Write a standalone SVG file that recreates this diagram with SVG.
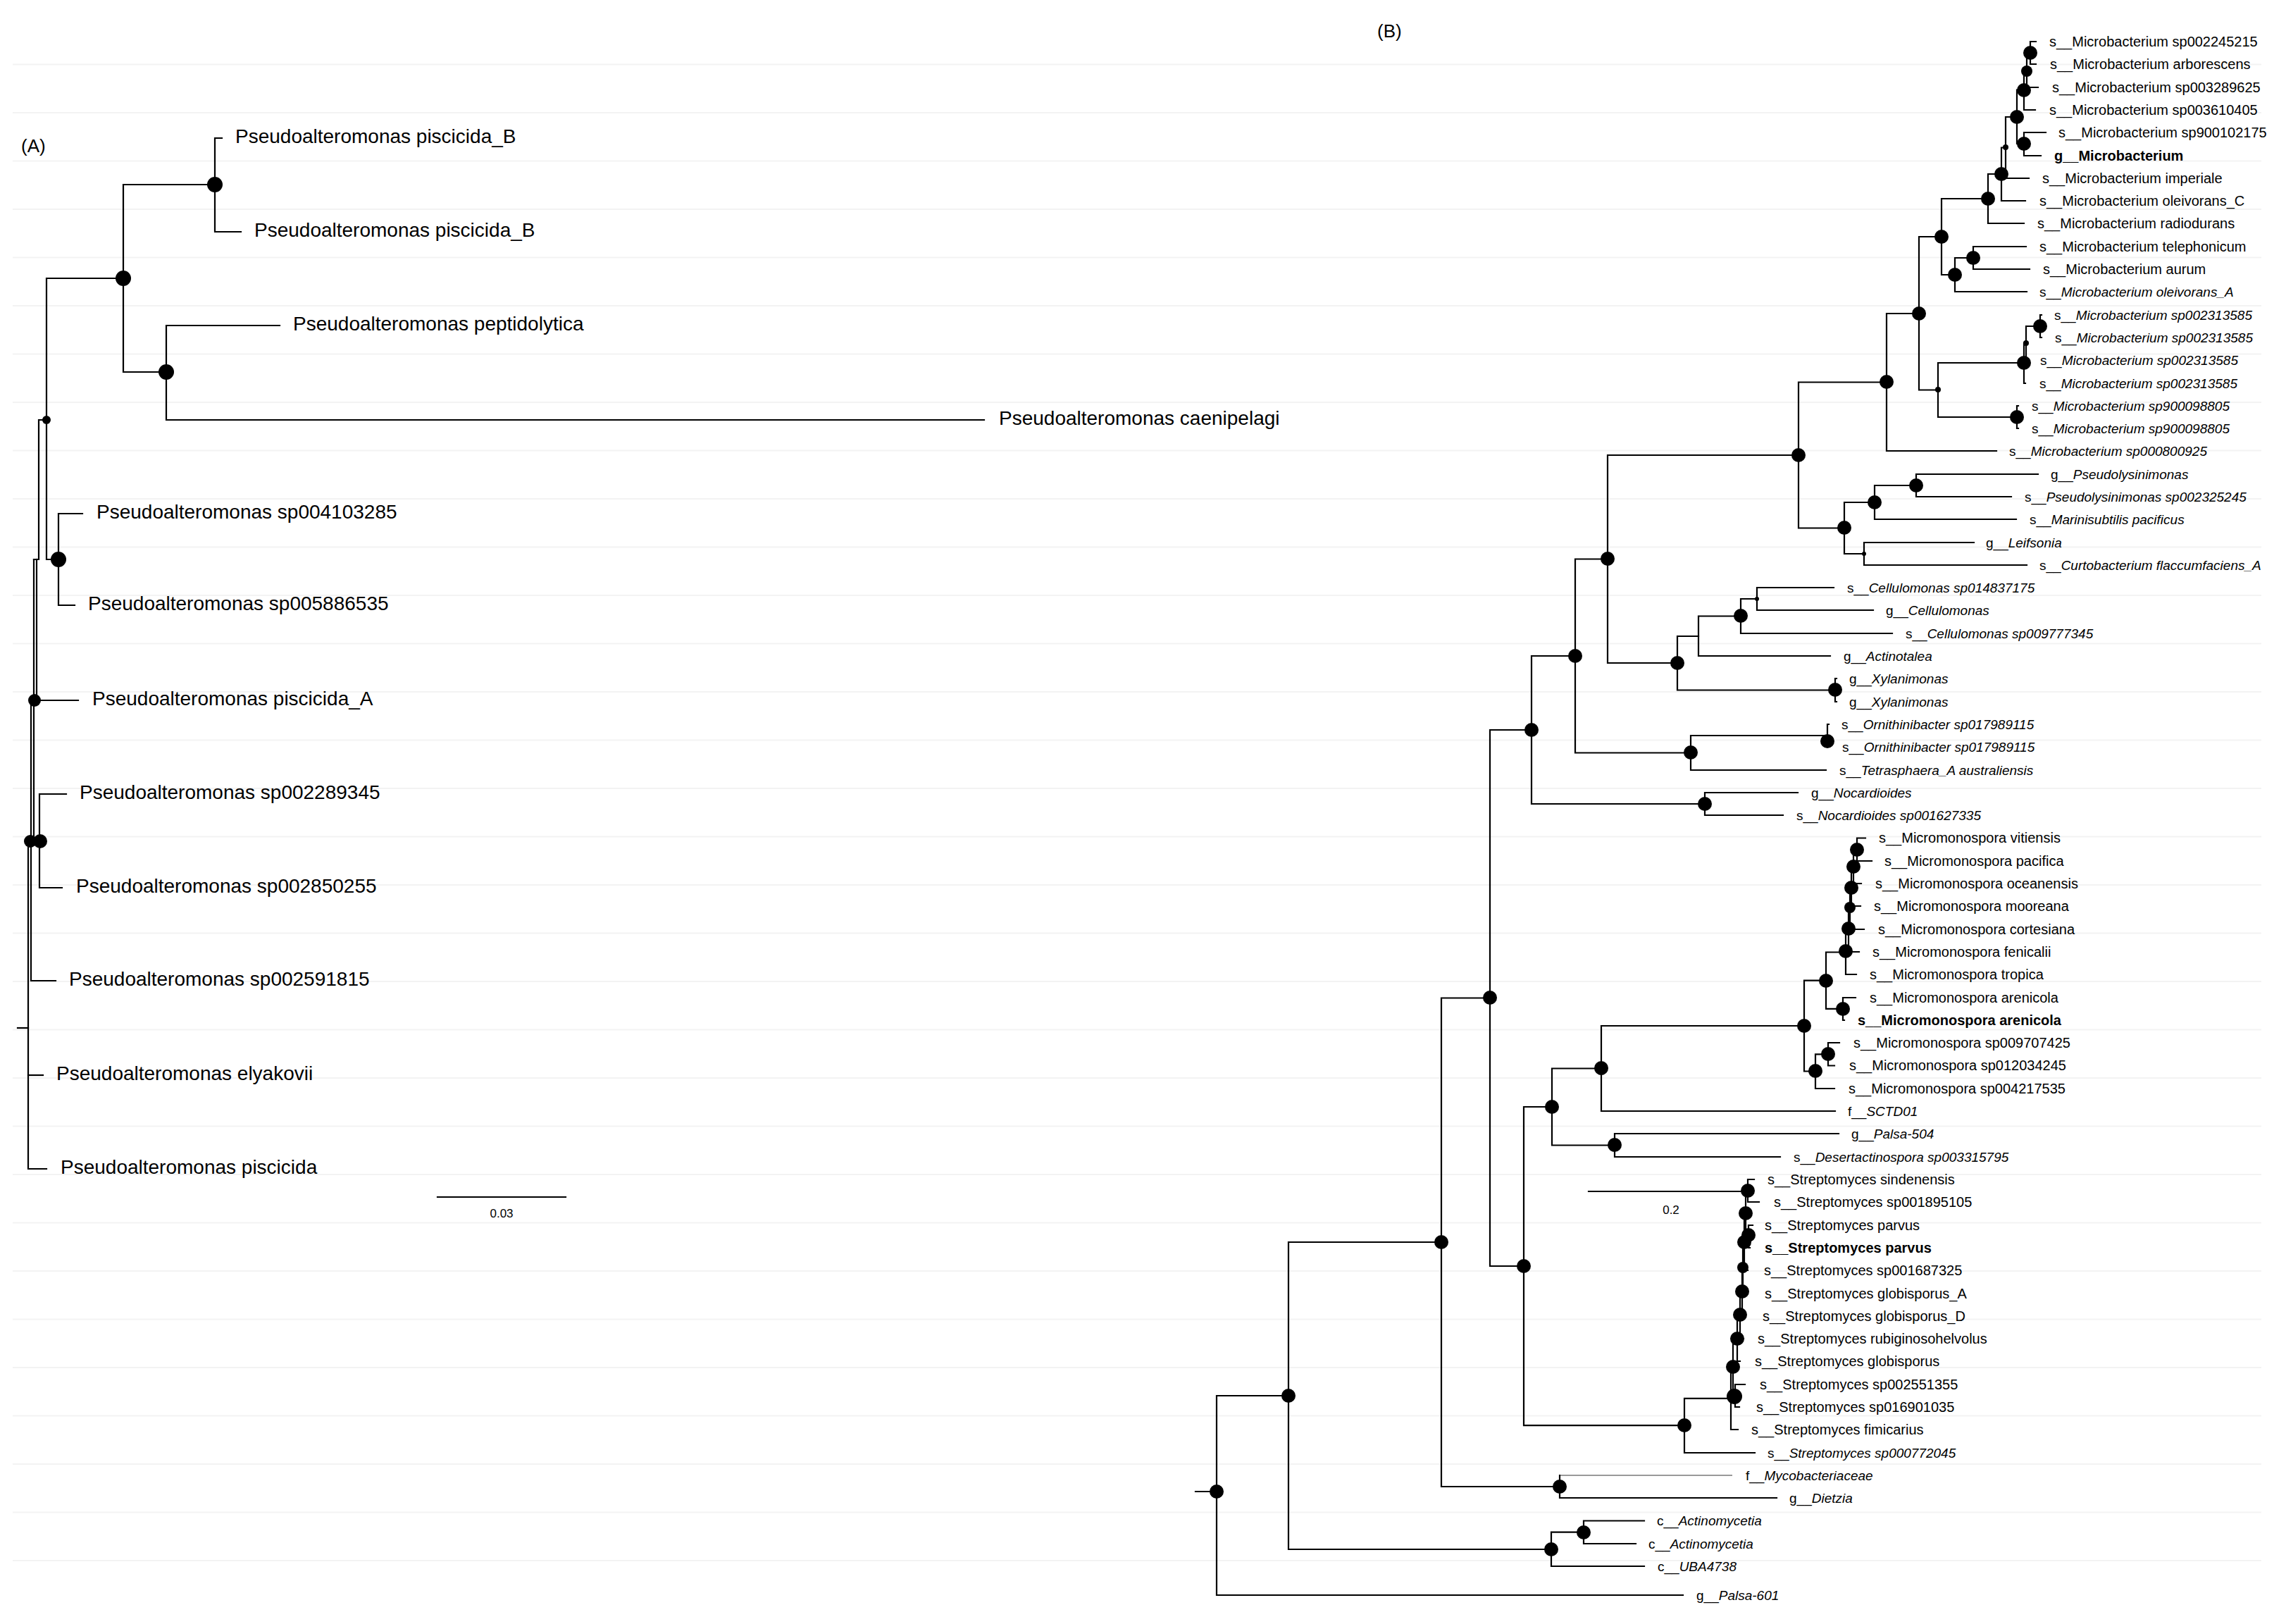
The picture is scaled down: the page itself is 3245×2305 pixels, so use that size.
<svg xmlns="http://www.w3.org/2000/svg" width="3245" height="2305" viewBox="0 0 3245 2305">
<style>
.grid{fill:none;stroke:#f3f3f3;stroke-width:2}
.br{fill:none;stroke:#000;stroke-width:2.2;stroke-linecap:square}
.brg{fill:none;stroke:#777;stroke-width:1.6}
.dot{fill:#000}
.la{font-family:"Liberation Sans",Arial,sans-serif;font-size:28px;fill:#000}
.lb{font-family:"Liberation Sans",Arial,sans-serif;font-size:20px;fill:#000}
.lbi{font-family:"Liberation Sans",Arial,sans-serif;font-size:19px;fill:#000}
.i{font-style:italic}
.bd{font-weight:bold}
.ttl{font-family:"Liberation Sans",Arial,sans-serif;font-size:26px;fill:#000}
.sc{font-family:"Liberation Sans",Arial,sans-serif;font-size:17px;fill:#000}
</style>
<rect width="3245" height="2305" fill="#fff"/>
<path class="grid" d="M18 91.5H3210M18 160H3210M18 228.5H3210M18 297H3210M18 365.5H3210M18 434H3210M18 502.5H3210M18 571H3210M18 639.5H3210M18 708H3210M18 776.5H3210M18 845H3210M18 913.5H3210M18 982H3210M18 1050.5H3210M18 1119H3210M18 1187.5H3210M18 1256H3210M18 1324.5H3210M18 1393H3210M18 1461.5H3210M18 1530H3210M18 1598.5H3210M18 1667H3210M18 1735.5H3210M18 1804H3210M18 1872.5H3210M18 1941H3210M18 2009.5H3210M18 2078H3210M18 2146.5H3210M18 2215H3210"/>

<text class="ttl" x="30" y="216">(A)</text>
<text class="ttl" x="1955" y="53">(B)</text>

<g id="connectors">
<!-- tree A -->
<path class="br" d="M315 196H305V329H342"/>
<path class="br" d="M305 262H175V528H236"/>
<path class="br" d="M397 462H236V596H1397"/>
<path class="br" d="M175 395H66V794H83"/>
<path class="br" d="M117 729H83V859H106"/>
<path class="br" d="M66 596H55V794H48"/>
<path class="br" d="M52 794V994"/>
<path class="br" d="M48 794V1194H44"/>
<path class="br" d="M49 994H111"/>
<path class="br" d="M44 994V1392H79"/>
<path class="br" d="M44 1194H56"/>
<path class="br" d="M94 1127H56V1260H88"/>
<path class="br" d="M44 1194H40V1659H66"/>
<path class="br" d="M40 1526H61"/>
<path class="br" d="M25 1459H40"/>
<path class="br" d="M621 1699H803"/>
<!-- tree B -->
<path class="br" d="M2890 59H2882V91H2890"/>
<path class="br" d="M2882 75H2877V124H2893"/>
<path class="br" d="M2877 99.5H2873V156H2889"/>
<path class="br" d="M2904 188H2873V221H2897"/>
<path class="br" d="M2873 127.7H2863V204H2873"/>
<path class="br" d="M2863 166H2847V253H2880"/>
<path class="br" d="M2847 209.5H2841V285H2875"/>
<path class="br" d="M2841 247H2822V317H2873"/>
<path class="br" d="M2876 350H2801V382H2881"/>
<path class="br" d="M2801 366H2775V414H2877"/>
<path class="br" d="M2822 282H2756V390H2775"/>
<path class="br" d="M2898 447H2896V479H2898"/>
<path class="br" d="M2896 463H2876V511H2878"/>
<path class="br" d="M2876 487H2873V544H2875"/>
<path class="br" d="M2865 576H2863V608H2865"/>
<path class="br" d="M2873 515H2751V592H2863"/>
<path class="br" d="M2756 336H2724V553.5H2751"/>
<path class="br" d="M2724 445H2678V640H2834"/>
<path class="br" d="M2893 673H2720V705H2855"/>
<path class="br" d="M2720 689H2661V737H2862"/>
<path class="br" d="M2802 770H2646V802H2877"/>
<path class="br" d="M2661 713H2618V786H2646"/>
<path class="br" d="M2678 542.5H2553V749.5H2618"/>
<path class="br" d="M2603 834H2494V866H2659"/>
<path class="br" d="M2494 850H2471V899H2686"/>
<path class="br" d="M2471 874.5H2411V931H2598"/>
<path class="br" d="M2607 963H2605V996H2607"/>
<path class="br" d="M2411 903H2381V979.5H2605"/>
<path class="br" d="M2553 646H2282V941H2381"/>
<path class="br" d="M2596 1028H2594V1060H2596"/>
<path class="br" d="M2594 1044H2400V1093H2592"/>
<path class="br" d="M2282 793.5H2236V1068.5H2400"/>
<path class="br" d="M2552 1125H2420V1157H2531"/>
<path class="br" d="M2236 931H2174V1141H2420"/>
<path class="br" d="M2648 1189.5H2636V1222H2657"/>
<path class="br" d="M2636 1205.7H2631V1254H2642"/>
<path class="br" d="M2631 1230H2628V1286H2641"/>
<path class="br" d="M2628 1258H2626V1319H2646"/>
<path class="br" d="M2626 1288.4H2624V1351H2639"/>
<path class="br" d="M2624 1319.7H2620V1383H2635"/>
<path class="br" d="M2634 1416H2616V1448H2618"/>
<path class="br" d="M2620 1351.5H2592V1431.8H2616"/>
<path class="br" d="M2611 1480H2595V1512.5H2604"/>
<path class="br" d="M2595 1496.3H2577V1545H2604"/>
<path class="br" d="M2592 1391.7H2561V1520.5H2577"/>
<path class="br" d="M2561 1456H2273V1577H2605"/>
<path class="br" d="M2610 1609H2292V1642H2527"/>
<path class="br" d="M2273 1516.5H2203V1625.5H2292"/>
<path class="br" d="M2490 1674H2481V1706H2497"/>
<path class="br" d="M2488 1739H2482V1771H2484"/>
<path class="br" d="M2481 1690H2478V1754.8H2482"/>
<path class="br" d="M2478 1722.4H2476V1803H2481"/>
<path class="br" d="M2476 1762.8H2474V1835.5H2479"/>
<path class="br" d="M2474 1799H2473V1868H2477"/>
<path class="br" d="M2473 1833.4H2470V1900H2475"/>
<path class="br" d="M2470 1866.7H2466V1932H2470"/>
<path class="br" d="M2477 1965H2463V1997H2469"/>
<path class="br" d="M2466 1899.5H2460V1980.9H2463"/>
<path class="br" d="M2460 1940.2H2457V2029H2467"/>
<path class="br" d="M2457 1984.8H2391V2062H2491"/>
<path class="br" d="M2203 1571H2163V2023.2H2391"/>
<path class="br" d="M2174 1036H2115V1797H2163"/>
<path class="brg" d="M2214 2094H2459"/>
<path class="br" d="M2214 2094V2126H2522"/>
<path class="br" d="M2115 1416.5H2046V2110H2214"/>
<path class="br" d="M2334 2158.5H2248V2191H2322"/>
<path class="br" d="M2248 2174.7H2202V2223H2334"/>
<path class="br" d="M2046 1763H1829V2199H2202"/>
<path class="br" d="M1829 1981H1727V2264H2389"/>
<path class="br" d="M1697 2117H1727"/>
<path class="br" d="M2255 1691H2472"/>
</g>

<g id="scale-a"><text class="sc" x="712" y="1728" text-anchor="middle">0.03</text></g>
<g id="scale-b"><text class="sc" x="2372" y="1723" text-anchor="middle" font-size="19">0.2</text></g>

<!-- tree A internal nodes -->
<g id="a-n1"><circle class="dot" cx="305" cy="262" r="11"/></g>
<g id="a-n2"><circle class="dot" cx="175" cy="395" r="11"/></g>
<g id="a-n3"><circle class="dot" cx="236" cy="528" r="11"/></g>
<g id="a-n4"><circle class="dot" cx="66" cy="596" r="6"/></g>
<g id="a-n5"><circle class="dot" cx="83" cy="794" r="11"/></g>
<g id="a-n6"><circle class="dot" cx="49" cy="994" r="9"/></g>
<g id="a-n7"><circle class="dot" cx="43" cy="1194" r="9"/></g>
<g id="a-n8"><circle class="dot" cx="57" cy="1194" r="10"/></g>

<!-- tree A leaves -->
<g id="a-l1"><text class="la" x="334" y="203">Pseudoalteromonas piscicida_B</text></g>
<g id="a-l2"><text class="la" x="361" y="336">Pseudoalteromonas piscicida_B</text></g>
<g id="a-l3"><text class="la" x="416" y="469">Pseudoalteromonas peptidolytica</text></g>
<g id="a-l4"><text class="la" x="1418" y="603">Pseudoalteromonas caenipelagi</text></g>
<g id="a-l5"><text class="la" x="137" y="736">Pseudoalteromonas sp004103285</text></g>
<g id="a-l6"><text class="la" x="125" y="866">Pseudoalteromonas sp005886535</text></g>
<g id="a-l7"><text class="la" x="131" y="1001">Pseudoalteromonas piscicida_A</text></g>
<g id="a-l8"><text class="la" x="113" y="1134">Pseudoalteromonas sp002289345</text></g>
<g id="a-l9"><text class="la" x="108" y="1267">Pseudoalteromonas sp002850255</text></g>
<g id="a-l10"><text class="la" x="98" y="1399">Pseudoalteromonas sp002591815</text></g>
<g id="a-l11"><text class="la" x="80" y="1533">Pseudoalteromonas elyakovii</text></g>
<g id="a-l12"><text class="la" x="86" y="1666">Pseudoalteromonas piscicida</text></g>

<!-- tree B internal nodes -->
<g id="b-A1"><circle class="dot" cx="2882" cy="75" r="10"/></g>
<g id="b-A2"><circle class="dot" cx="2877" cy="101" r="8"/></g>
<g id="b-A3"><circle class="dot" cx="2873" cy="128" r="10"/></g>
<g id="b-A5"><circle class="dot" cx="2873" cy="204" r="10"/></g>
<g id="b-A6"><circle class="dot" cx="2863" cy="166" r="10"/></g>
<g id="b-A7"><circle class="dot" cx="2847" cy="209" r="4"/></g>
<g id="b-A8"><circle class="dot" cx="2841" cy="247" r="10"/></g>
<g id="b-A9"><circle class="dot" cx="2822" cy="282" r="10"/></g>
<g id="b-B1"><circle class="dot" cx="2801" cy="366" r="10"/></g>
<g id="b-B2"><circle class="dot" cx="2775" cy="390" r="10"/></g>
<g id="b-C1"><circle class="dot" cx="2756" cy="336" r="10"/></g>
<g id="b-C2"><circle class="dot" cx="2724" cy="445" r="10"/></g>
<g id="b-D1"><circle class="dot" cx="2751" cy="553" r="4"/></g>
<g id="b-D2"><circle class="dot" cx="2873" cy="515" r="10"/></g>
<g id="b-D5"><circle class="dot" cx="2876" cy="487" r="4"/></g>
<g id="b-D4"><circle class="dot" cx="2896" cy="463" r="10"/></g>
<g id="b-D3"><circle class="dot" cx="2863" cy="592" r="10"/></g>
<g id="b-E1"><circle class="dot" cx="2678" cy="542" r="10"/></g>
<g id="b-F1"><circle class="dot" cx="2553" cy="646" r="10"/></g>
<g id="b-G1"><circle class="dot" cx="2618" cy="749" r="10"/></g>
<g id="b-G2"><circle class="dot" cx="2661" cy="713" r="10"/></g>
<g id="b-G4"><circle class="dot" cx="2720" cy="689" r="10"/></g>
<g id="b-G3"><circle class="dot" cx="2646" cy="786" r="3"/></g>
<g id="b-H1"><circle class="dot" cx="2282" cy="793" r="10"/></g>
<g id="b-I1"><circle class="dot" cx="2381" cy="941" r="10"/></g>
<g id="b-I2"><circle class="dot" cx="2471" cy="874" r="10"/></g>
<g id="b-K1"><circle class="dot" cx="2494" cy="850" r="3"/></g>
<g id="b-X"><circle class="dot" cx="2605" cy="979" r="10"/></g>
<g id="b-L1"><circle class="dot" cx="2236" cy="931" r="10"/></g>
<g id="b-M1"><circle class="dot" cx="2400" cy="1068" r="10"/></g>
<g id="b-N"><circle class="dot" cx="2594" cy="1052" r="10"/></g>
<g id="b-O1"><circle class="dot" cx="2174" cy="1036" r="10"/></g>
<g id="b-P1"><circle class="dot" cx="2420" cy="1141" r="10"/></g>
<g id="b-Mi1"><circle class="dot" cx="2636" cy="1206" r="10"/></g>
<g id="b-Mi2"><circle class="dot" cx="2631" cy="1230" r="10"/></g>
<g id="b-Mi3"><circle class="dot" cx="2628" cy="1260" r="10"/></g>
<g id="b-Mi4"><circle class="dot" cx="2626" cy="1288" r="8"/></g>
<g id="b-Mi5"><circle class="dot" cx="2624" cy="1318" r="10"/></g>
<g id="b-Mi6"><circle class="dot" cx="2620" cy="1350" r="10"/></g>
<g id="b-Mi7"><circle class="dot" cx="2592" cy="1392" r="10"/></g>
<g id="b-Mi8"><circle class="dot" cx="2616" cy="1432" r="10"/></g>
<g id="b-Mi9"><circle class="dot" cx="2561" cy="1456" r="10"/></g>
<g id="b-Mi10"><circle class="dot" cx="2577" cy="1520" r="10"/></g>
<g id="b-Mi11"><circle class="dot" cx="2595" cy="1496" r="10"/></g>
<g id="b-S1"><circle class="dot" cx="2273" cy="1516" r="10"/></g>
<g id="b-S2"><circle class="dot" cx="2203" cy="1571" r="10"/></g>
<g id="b-S3"><circle class="dot" cx="2292" cy="1625" r="10"/></g>
<g id="b-St1"><circle class="dot" cx="2481" cy="1690" r="10"/></g>
<g id="b-St2"><circle class="dot" cx="2478" cy="1722" r="10"/></g>
<g id="b-St3"><circle class="dot" cx="2482" cy="1753" r="10"/></g>
<g id="b-St4"><circle class="dot" cx="2476" cy="1763" r="10"/></g>
<g id="b-St5"><circle class="dot" cx="2474" cy="1799" r="8"/></g>
<g id="b-St6"><circle class="dot" cx="2473" cy="1833" r="10"/></g>
<g id="b-St7"><circle class="dot" cx="2470" cy="1866" r="10"/></g>
<g id="b-St8"><circle class="dot" cx="2466" cy="1900" r="10"/></g>
<g id="b-St9"><circle class="dot" cx="2460" cy="1940" r="10"/></g>
<g id="b-St10"><circle class="dot" cx="2462" cy="1982" r="11"/></g>
<g id="b-T2"><circle class="dot" cx="2391" cy="2023" r="10"/></g>
<g id="b-R1"><circle class="dot" cx="2163" cy="1797" r="10"/></g>
<g id="b-Q1"><circle class="dot" cx="2115" cy="1416" r="10"/></g>
<g id="b-V1"><circle class="dot" cx="2214" cy="2110" r="10"/></g>
<g id="b-U1"><circle class="dot" cx="2046" cy="1763" r="10"/></g>
<g id="b-X2"><circle class="dot" cx="2248" cy="2175" r="10"/></g>
<g id="b-X1"><circle class="dot" cx="2202" cy="2199" r="10"/></g>
<g id="b-W1"><circle class="dot" cx="1829" cy="1981" r="10"/></g>
<g id="b-root"><circle class="dot" cx="1727" cy="2117" r="10"/></g>

<!-- tree B leaves -->
<g id="b-l1"><text class="lb" x="2909" y="66">s__Microbacterium sp002245215</text></g>
<g id="b-l2"><text class="lb" x="2910" y="98">s__Microbacterium arborescens</text></g>
<g id="b-l3"><text class="lb" x="2913" y="131">s__Microbacterium sp003289625</text></g>
<g id="b-l4"><text class="lb" x="2909" y="163">s__Microbacterium sp003610405</text></g>
<g id="b-l5"><text class="lb" x="2922" y="195">s__Microbacterium sp900102175</text></g>
<g id="b-l6"><text class="lb bd" x="2916" y="228">g__Microbacterium</text></g>
<g id="b-l7"><text class="lb" x="2899" y="260">s__Microbacterium imperiale</text></g>
<g id="b-l8"><text class="lb" x="2895" y="292">s__Microbacterium oleivorans_C</text></g>
<g id="b-l9"><text class="lb" x="2892" y="324">s__Microbacterium radiodurans</text></g>
<g id="b-l10"><text class="lb" x="2895" y="357">s__Microbacterium telephonicum</text></g>
<g id="b-l11"><text class="lb" x="2900" y="389">s__Microbacterium aurum</text></g>
<g id="b-l12"><text class="lbi" x="2895" y="421">s__<tspan class="i">Microbacterium oleivorans_A</tspan></text></g>
<g id="b-l13"><text class="lbi" x="2916" y="454">s__<tspan class="i">Microbacterium sp002313585</tspan></text></g>
<g id="b-l14"><text class="lbi" x="2917" y="486">s__<tspan class="i">Microbacterium sp002313585</tspan></text></g>
<g id="b-l15"><text class="lbi" x="2896" y="518">s__<tspan class="i">Microbacterium sp002313585</tspan></text></g>
<g id="b-l16"><text class="lbi" x="2895" y="551">s__<tspan class="i">Microbacterium sp002313585</tspan></text></g>
<g id="b-l17"><text class="lbi" x="2884" y="583">s__<tspan class="i">Microbacterium sp900098805</tspan></text></g>
<g id="b-l18"><text class="lbi" x="2884" y="615">s__<tspan class="i">Microbacterium sp900098805</tspan></text></g>
<g id="b-l19"><text class="lbi" x="2852" y="647">s__<tspan class="i">Microbacterium sp000800925</tspan></text></g>
<g id="b-l20"><text class="lbi" x="2911" y="680">g__<tspan class="i">Pseudolysinimonas</tspan></text></g>
<g id="b-l21"><text class="lbi" x="2874" y="712">s__<tspan class="i">Pseudolysinimonas sp002325245</tspan></text></g>
<g id="b-l22"><text class="lbi" x="2881" y="744">s__<tspan class="i">Marinisubtilis pacificus</tspan></text></g>
<g id="b-l23"><text class="lbi" x="2819" y="777">g__<tspan class="i">Leifsonia</tspan></text></g>
<g id="b-l24"><text class="lbi" x="2895" y="809">s__<tspan class="i">Curtobacterium flaccumfaciens_A</tspan></text></g>
<g id="b-l25"><text class="lbi" x="2622" y="841">s__<tspan class="i">Cellulomonas sp014837175</tspan></text></g>
<g id="b-l26"><text class="lbi" x="2677" y="873">g__<tspan class="i">Cellulomonas</tspan></text></g>
<g id="b-l27"><text class="lbi" x="2705" y="906">s__<tspan class="i">Cellulomonas sp009777345</tspan></text></g>
<g id="b-l28"><text class="lbi" x="2617" y="938">g__<tspan class="i">Actinotalea</tspan></text></g>
<g id="b-l29"><text class="lbi" x="2625" y="970">g__<tspan class="i">Xylanimonas</tspan></text></g>
<g id="b-l30"><text class="lbi" x="2625" y="1003">g__<tspan class="i">Xylanimonas</tspan></text></g>
<g id="b-l31"><text class="lbi" x="2614" y="1035">s__<tspan class="i">Ornithinibacter sp017989115</tspan></text></g>
<g id="b-l32"><text class="lbi" x="2615" y="1067">s__<tspan class="i">Ornithinibacter sp017989115</tspan></text></g>
<g id="b-l33"><text class="lbi" x="2611" y="1100">s__<tspan class="i">Tetrasphaera_A australiensis</tspan></text></g>
<g id="b-l34"><text class="lbi" x="2571" y="1132">g__<tspan class="i">Nocardioides</tspan></text></g>
<g id="b-l35"><text class="lbi" x="2550" y="1164">s__<tspan class="i">Nocardioides sp001627335</tspan></text></g>
<g id="b-l36"><text class="lb" x="2667" y="1196">s__Micromonospora vitiensis</text></g>
<g id="b-l37"><text class="lb" x="2675" y="1229">s__Micromonospora pacifica</text></g>
<g id="b-l38"><text class="lb" x="2662" y="1261">s__Micromonospora oceanensis</text></g>
<g id="b-l39"><text class="lb" x="2660" y="1293">s__Micromonospora mooreana</text></g>
<g id="b-l40"><text class="lb" x="2666" y="1326">s__Micromonospora cortesiana</text></g>
<g id="b-l41"><text class="lb" x="2658" y="1358">s__Micromonospora fenicalii</text></g>
<g id="b-l42"><text class="lb" x="2654" y="1390">s__Micromonospora tropica</text></g>
<g id="b-l43"><text class="lb" x="2654" y="1423">s__Micromonospora arenicola</text></g>
<g id="b-l44"><text class="lb bd" x="2637" y="1455">s__Micromonospora arenicola</text></g>
<g id="b-l45"><text class="lb" x="2631" y="1487">s__Micromonospora sp009707425</text></g>
<g id="b-l46"><text class="lb" x="2625" y="1519">s__Micromonospora sp012034245</text></g>
<g id="b-l47"><text class="lb" x="2624" y="1552">s__Micromonospora sp004217535</text></g>
<g id="b-l48"><text class="lbi" x="2623" y="1584">f__<tspan class="i">SCTD01</tspan></text></g>
<g id="b-l49"><text class="lbi" x="2628" y="1616">g__<tspan class="i">Palsa-504</tspan></text></g>
<g id="b-l50"><text class="lbi" x="2546" y="1649">s__<tspan class="i">Desertactinospora sp003315795</tspan></text></g>
<g id="b-l51"><text class="lb" x="2509" y="1681">s__Streptomyces sindenensis</text></g>
<g id="b-l52"><text class="lb" x="2518" y="1713">s__Streptomyces sp001895105</text></g>
<g id="b-l53"><text class="lb" x="2505" y="1746">s__Streptomyces parvus</text></g>
<g id="b-l54"><text class="lb bd" x="2505" y="1778">s__Streptomyces parvus</text></g>
<g id="b-l55"><text class="lb" x="2504" y="1810">s__Streptomyces sp001687325</text></g>
<g id="b-l56"><text class="lb" x="2505" y="1843">s__Streptomyces globisporus_A</text></g>
<g id="b-l57"><text class="lb" x="2502" y="1875">s__Streptomyces globisporus_D</text></g>
<g id="b-l58"><text class="lb" x="2495" y="1907">s__Streptomyces rubiginosohelvolus</text></g>
<g id="b-l59"><text class="lb" x="2491" y="1939">s__Streptomyces globisporus</text></g>
<g id="b-l60"><text class="lb" x="2498" y="1972">s__Streptomyces sp002551355</text></g>
<g id="b-l61"><text class="lb" x="2493" y="2004">s__Streptomyces sp016901035</text></g>
<g id="b-l62"><text class="lb" x="2486" y="2036">s__Streptomyces fimicarius</text></g>
<g id="b-l63"><text class="lbi" x="2509" y="2069">s__<tspan class="i">Streptomyces sp000772045</tspan></text></g>
<g id="b-l64"><text class="lbi" x="2478" y="2101">f__<tspan class="i">Mycobacteriaceae</tspan></text></g>
<g id="b-l65"><text class="lbi" x="2540" y="2133">g__<tspan class="i">Dietzia</tspan></text></g>
<g id="b-l66"><text class="lbi" x="2352" y="2165">c__<tspan class="i">Actinomycetia</tspan></text></g>
<g id="b-l67"><text class="lbi" x="2340" y="2198">c__<tspan class="i">Actinomycetia</tspan></text></g>
<g id="b-l68"><text class="lbi" x="2353" y="2230">c__<tspan class="i">UBA4738</tspan></text></g>
<g id="b-l69"><text class="lbi" x="2408" y="2271">g__<tspan class="i">Palsa-601</tspan></text></g>
</svg>
